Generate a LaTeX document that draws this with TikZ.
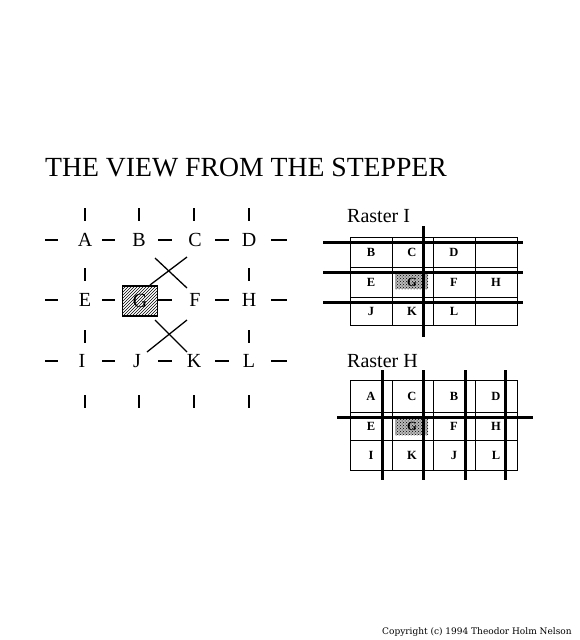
\documentclass[tikz,border=0pt]{standalone}
\usepackage{fontspec}
\setmainfont{Liberation Serif}
\newfontfamily\copyfont{DejaVu Serif}
\usetikzlibrary{patterns}
\tikzset{
  letter/.style={font=\fontsize{20}{24}\selectfont, inner sep=0pt},
  cell/.style={font=\fontsize{12.5}{14}\selectfont\bfseries, inner sep=0pt},
  bar/.style={line width=2.5pt},
  vtick/.style={line width=2pt},
  rule/.style={line width=3pt},
  thinrule/.style={line width=1pt},
  shade/.style={fill=gray!55, postaction={pattern=crosshatch dots}}
}
\begin{document}
\begin{tikzpicture}[x=1pt,y=-1pt]
    \useasboundingbox (0,0) rectangle (580,640);
    \fill[white] (0,0) rectangle (580,640);

    % Title
    \node[anchor=base west, inner sep=0pt, font=\fontsize{27.7}{32}\selectfont] (title) at (45,176) {THE VIEW FROM THE STEPPER};

    % Letters of the stepper grid
    \foreach \name/\x/\y in {A/85/240, B/139/240, C/195/240, D/249/240,
                             E/85/300, F/195/300, H/249/300,
                             I/82/361, J/137/361, K/194/361, L/249/361} {
        \node[letter] (\name) at (\x,\y) {\name};
    }

    % The hatched box G
    \node[draw, line width=1.5pt, pattern=north east lines, minimum width=35pt, minimum height=30pt, inner sep=0pt, letter] (G) at (140,301) {G};

    % Horizontal dashes between the letters
    \foreach \y in {240,300,361} {
        \foreach \a/\b in {45/58, 102/115, 158/172, 215/229, 271/287} {
            \draw[bar] (\a,\y) -- (\b,\y);
        }
    }

    % Vertical ticks
    \foreach \x in {85,139,194,249} {
        \draw[vtick] (\x,208) -- (\x,221);
        \draw[vtick] (\x,395) -- (\x,408);
    }
    \foreach \x in {85,249} {
        \draw[vtick] (\x,268) -- (\x,281);
        \draw[vtick] (\x,330) -- (\x,343);
    }

    % The two crosses
    \draw[line width=1.3pt] (150,285) -- (187,257);
    \draw[line width=1.3pt] (155,258) -- (187,288);
    \draw[line width=1.3pt] (147,352) -- (187,320);
    \draw[line width=1.3pt] (155,320) -- (187,352);

    % Raster I
    \node[letter, anchor=base west] (rasterI) at (347,222) {Raster I};
    \fill[shade] (395,274) rectangle (428,289);
    \draw[thinrule] (350,237) rectangle (517,325);
    \foreach \x in {392,433,475} {
        \draw[thinrule] (\x,237) -- (\x,325);
    }
    \foreach \y in {267,297} {
        \draw[thinrule] (350,\y) -- (517,\y);
    }
    \foreach \name/\x/\y in {B/371/252, C/412/252, D/454/252,
                             E/371/282, G/412/282, F/454/282, H/496/282,
                             J/371/311, K/412/311, L/454/311} {
        \node[cell] (i\name) at (\x,\y) {\name};
    }
    \foreach \y in {242,272,302} {
        \draw[rule] (323,\y) -- (523,\y);
    }
    \draw[rule] (423,226) -- (423,337);

    % Raster H
    \node[letter, anchor=base west] (rasterH) at (347,367) {Raster H};
    \fill[shade] (395,418) rectangle (428,435);
    \draw[thinrule] (350,380) rectangle (517,470);
    \foreach \x in {392,433,475} {
        \draw[thinrule] (\x,380) -- (\x,470);
    }
    \foreach \y in {412,440} {
        \draw[thinrule] (350,\y) -- (517,\y);
    }
    \foreach \name/\x/\y in {A/371/396, C/412/396, B/454/396, D/496/396,
                             E/371/426, G/412/426, F/454/426, H/496/426,
                             I/371/455, K/412/455, J/454/455, L/496/455} {
        \node[cell] (h\name) at (\x,\y) {\name};
    }
    \foreach \x in {382,423,465,505} {
        \draw[rule] (\x,370) -- (\x,480);
    }
    \draw[rule] (337,417) -- (533,417);

    % Copyright line
    \node[anchor=base west, inner sep=0pt, font=\copyfont\fontsize{9}{11}\selectfont] (copy) at (382,634) {Copyright (c) 1994 Theodor Holm Nelson};
\end{tikzpicture}
\end{document}
